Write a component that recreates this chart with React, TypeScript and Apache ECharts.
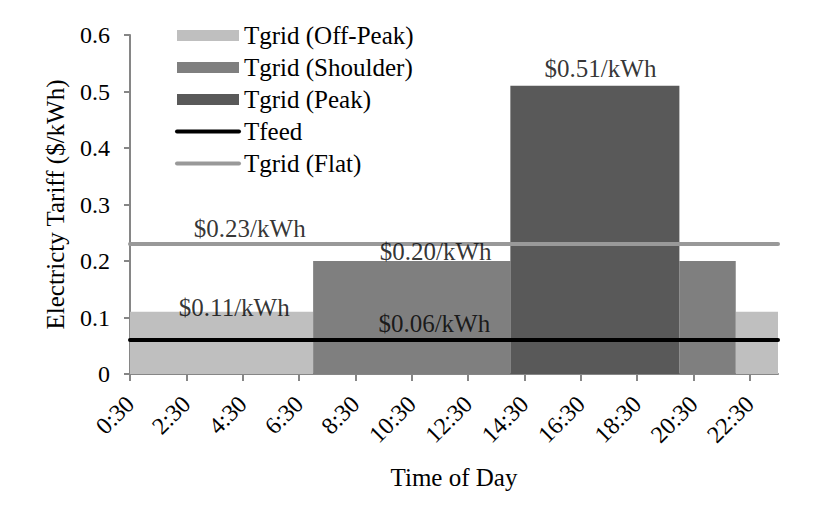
import React, { useEffect, useRef } from "react";
import * as echarts from "echarts";

// x axis: hour of day (0.5 = 0:30)
const dayStart = 0.5;
const dayEnd = 23.5;
const tickHours = [0.5, 2.5, 4.5, 6.5, 8.5, 10.5, 12.5, 14.5, 16.5, 18.5, 20.5, 22.5];
const tickLabels = ["0:30", "2:30", "4:30", "6:30", "8:30", "10:30", "12:30", "14:30", "16:30", "18:30", "20:30", "22:30"];
const yTicks = [0, 0.1, 0.2, 0.3, 0.4, 0.5, 0.6];
const yTickLabels = ["0", "0.1", "0.2", "0.3", "0.4", "0.5", "0.6"];

// tariff blocks: [startHour, endHour, rate $/kWh]
const offPeakBlocks = [
  [0.5, 7, 0.11],
  [22, 23.5, 0.11],
];
const shoulderBlocks = [
  [7, 14, 0.2],
  [20, 22, 0.2],
];
const peakBlocks = [[14, 20, 0.51]];
const feedRate = 0.06;
const flatRate = 0.23;

// value annotations
const labelHours = [4.2, 11.35, 17.2, 4.75, 11.3];
const labelValues = [0.118, 0.216, 0.54, 0.258, 0.0885];
const labelTexts = ["$0.11/kWh", "$0.20/kWh", "$0.51/kWh", "$0.23/kWh", "$0.06/kWh"];

const FONT = "'Liberation Serif', 'Times New Roman', serif";
const AXIS_GREY = "#868686";

const blockRender = (_params: any, api: any) => {
  const p0 = api.coord([api.value(0), api.value(2)]);
  const p1 = api.coord([api.value(1), 0]);
  return {
    type: "rect",
    shape: { x: p0[0], y: p0[1], width: p1[0] - p0[0], height: p1[1] - p0[1] },
    style: api.style(),
  };
};

export default function App() {
  const ref = useRef<HTMLDivElement>(null);

  useEffect(() => {
    if (!ref.current) return;
    const chart = echarts.init(ref.current, undefined, { renderer: "svg" });
    const blockSeries = (name: string, color: string, data: number[][]) => ({
      name,
      type: "custom",
      renderItem: blockRender,
      itemStyle: { color },
      encode: { x: [0, 1], y: 2 },
      data,
      z: 1,
      silent: true,
    });
    const lineLegend = (name: string) => ({
      name,
      lineStyle: { width: 4, cap: "round" },
      itemStyle: { opacity: 0 },
    });
    chart.setOption({
      animation: false,
      backgroundColor: "#ffffff",
      textStyle: { fontFamily: FONT },
      grid: { left: 130, right: 53, top: 35, bottom: 155, containLabel: false },
      legend: {
        orient: "vertical",
        left: 170,
        top: 18,
        itemWidth: 62,
        itemHeight: 11,
        itemGap: 7,
        selectedMode: false,
        textStyle: { fontSize: 25, fontFamily: FONT, color: "#000" },
        data: [
          { name: "Tgrid (Off-Peak)", icon: "rect" },
          { name: "Tgrid (Shoulder)", icon: "rect" },
          { name: "Tgrid (Peak)", icon: "rect" },
          lineLegend("Tfeed"),
          lineLegend("Tgrid (Flat)"),
        ],
      },
      xAxis: {
        type: "value",
        min: dayStart,
        max: dayEnd,
        name: "Time of Day",
        nameLocation: "middle",
        nameGap: 91,
        nameTextStyle: { fontSize: 25, color: "#000", fontFamily: FONT },
        axisLine: { show: true, lineStyle: { color: AXIS_GREY, width: 2 } },
        axisTick: { show: true, length: 7, customValues: tickHours, lineStyle: { color: AXIS_GREY, width: 2 } },
        axisLabel: {
          customValues: tickHours,
          rotate: 45,
          margin: 26,
          align: "right",
          verticalAlign: "middle",
          fontSize: 24,
          color: "#000",
          fontFamily: FONT,
          formatter: (v: number) => {
            const i = tickHours.indexOf(v);
            return i >= 0 ? tickLabels[i] : "";
          },
        },
        splitLine: { show: false },
      },
      yAxis: {
        type: "value",
        min: 0,
        max: 0.6,
        interval: 0.1,
        name: "Electricty Tariff ($/kWh)",
        nameLocation: "middle",
        nameGap: 62,
        nameTextStyle: { fontSize: 25, color: "#000", fontFamily: FONT },
        axisLine: { show: true, lineStyle: { color: AXIS_GREY, width: 2 } },
        axisTick: { show: true, length: 6, lineStyle: { color: AXIS_GREY, width: 2 } },
        axisLabel: {
          margin: 20,
          fontSize: 24,
          color: "#000",
          fontFamily: FONT,
          formatter: (v: number) => {
            const i = yTicks.findIndex((t) => Math.abs(t - v) < 1e-9);
            return i >= 0 ? yTickLabels[i] : "";
          },
        },
        splitLine: { show: false },
      },
      series: [
        blockSeries("Tgrid (Off-Peak)", "#BFBFBF", offPeakBlocks),
        blockSeries("Tgrid (Shoulder)", "#7F7F7F", shoulderBlocks),
        blockSeries("Tgrid (Peak)", "#595959", peakBlocks),
        {
          name: "Tfeed",
          type: "line",
          data: [
            [dayStart, feedRate],
            [dayEnd, feedRate],
          ],
          symbol: "none",
          itemStyle: { color: "#000000" },
          lineStyle: { color: "#000000", width: 4, cap: "round" },
          z: 3,
          silent: true,
        },
        {
          name: "Tgrid (Flat)",
          type: "line",
          data: [
            [dayStart, flatRate],
            [dayEnd, flatRate],
          ],
          symbol: "none",
          itemStyle: { color: "#999999" },
          lineStyle: { color: "#999999", width: 4, cap: "round" },
          z: 3,
          silent: true,
        },
        {
          name: "annotations",
          type: "scatter",
          data: labelHours.map((h, i) => [h, labelValues[i], labelTexts[i]]),
          symbolSize: 0,
          itemStyle: { color: "transparent" },
          silent: true,
          z: 5,
          label: {
            show: true,
            position: "inside",
            fontSize: 25,
            color: "#000",
            textBorderWidth: 0,
            fontFamily: FONT,
            formatter: (p: any) => p.data[2],
          },
        },
      ],
    });
    return () => chart.dispose();
  }, []);

  return (
    <div
      ref={ref}
      style={{ position: "fixed", left: 0, top: 0, width: 831, height: 529, background: "#fff" }}
    />
  );
}
